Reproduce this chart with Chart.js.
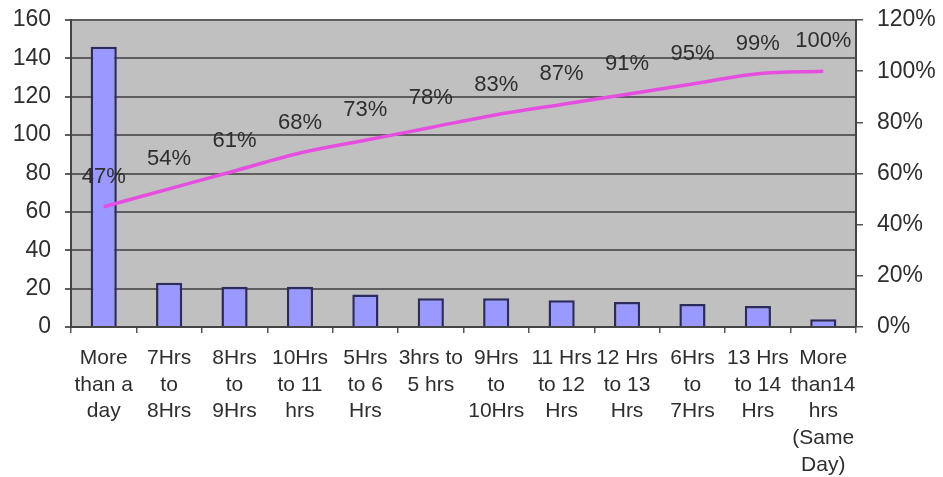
<!DOCTYPE html>
<html>
<head>
<meta charset="utf-8">
<script src="https://cdn.jsdelivr.net/npm/chart.js@4"></script>
<style>
  html, body { margin: 0; padding: 0; background: #fff; }
  #wrap { width: 943px; height: 477px; }
</style>
</head>
<body>
<div id="wrap"><canvas id="chart"></canvas></div>
<script>
const categories = [
    ['More', 'than a', 'day'],
    ['7Hrs', 'to', '8Hrs'],
    ['8Hrs', 'to', '9Hrs'],
    ['10Hrs', 'to 11', 'hrs'],
    ['5Hrs', 'to 6', 'Hrs'],
    ['3hrs to', '5 hrs'],
    ['9Hrs', 'to', '10Hrs'],
    ['11 Hrs', 'to 12', 'Hrs'],
    ['12 Hrs', 'to 13', 'Hrs'],
    ['6Hrs', 'to', '7Hrs'],
    ['13 Hrs', 'to 14', 'Hrs'],
    ['More', 'than14', 'hrs', '(Same', 'Day)']
];
const counts = [146, 23, 21, 21, 17, 15, 15, 14, 13, 12, 11, 4];
const cumulativePct = [47, 54, 61, 68, 73, 78, 83, 87, 91, 95, 99, 100];

const textColor = '#2e2e2e';
const fontFamily = '"Liberation Sans", Arial, sans-serif';

// gray plot background
const plotBackground = {
    id: 'plotBackground',
    beforeDraw(chart) {
        const { ctx, chartArea: a } = chart;
        ctx.save();
        ctx.fillStyle = '#c0c0c0';
        ctx.fillRect(a.left, a.top, a.right - a.left, a.bottom - a.top);
        ctx.restore();
    }
};

// percent labels above the cumulative line
const pctLabels = {
    id: 'pctLabels',
    afterDatasetsDraw(chart) {
        const ctx = chart.ctx;
        const meta = chart.getDatasetMeta(1);
        ctx.save();
        ctx.fillStyle = textColor;
        ctx.font = '22px ' + fontFamily;
        ctx.textAlign = 'center';
        ctx.textBaseline = 'middle';
        meta.data.forEach((pt, i) => {
            ctx.fillText(cumulativePct[i] + '%', pt.x, pt.y - 30);
        });
        ctx.restore();
    }
};

// fixed widths, no extra label padding, so the plot box lands where the original is
function fixWidth(w) {
    return s => {
        s.width = w;
        s.paddingTop = 0;
        s.paddingBottom = 0;
    };
}

new Chart(document.getElementById('chart'), {
    data: {
        labels: categories,
        datasets: [{
            type: 'bar',
            data: counts,
            yAxisID: 'y',
            backgroundColor: '#9999ff',
            borderColor: '#2b2b5e',
            borderWidth: 2.5,
            categoryPercentage: 1,
            barPercentage: 0.4,
            order: 2
        }, {
            type: 'line',
            data: cumulativePct,
            yAxisID: 'y1',
            borderColor: '#e64ee0',
            borderWidth: 3.5,
            tension: 0.4,
            cubicInterpolationMode: 'monotone',
            pointRadius: 0,
            order: 1
        }]
    },
    options: {
        responsive: true,
        maintainAspectRatio: false,
        animation: false,
        layout: { padding: { top: 20, left: 0, right: 0, bottom: 0 } },
        plugins: { legend: { display: false }, tooltip: { enabled: false } },
        scales: {
            x: {
                grid: {
                    offset: true,
                    drawOnChartArea: false,
                    color: '#555',
                    tickLength: 6,
                    lineWidth: 1.5
                },
                border: { color: '#444', width: 2 },
                ticks: {
                    color: textColor,
                    font: { size: 21, family: fontFamily, lineHeight: 1.27 },
                    maxRotation: 0,
                    autoSkip: false,
                    padding: 12
                },
                afterFit(s) { s.height = 150; }
            },
            y: {
                position: 'left',
                min: 0,
                max: 160,
                ticks: {
                    stepSize: 20,
                    color: textColor,
                    font: { size: 23, family: fontFamily },
                    padding: 14
                },
                grid: { color: '#5e5e5e', lineWidth: 2, tickLength: 6 },
                border: { color: '#444', width: 2 },
                afterFit: fixWidth(71)
            },
            y1: {
                position: 'right',
                min: 0,
                max: 120,
                ticks: {
                    stepSize: 20,
                    color: textColor,
                    font: { size: 23, family: fontFamily },
                    padding: 14,
                    callback: v => v + '%'
                },
                grid: { drawOnChartArea: false, color: '#555', tickLength: 7, lineWidth: 1.5 },
                border: { color: '#444', width: 2 },
                afterFit: fixWidth(87)
            }
        }
    },
    plugins: [plotBackground, pctLabels]
});
</script>
</body>
</html>
